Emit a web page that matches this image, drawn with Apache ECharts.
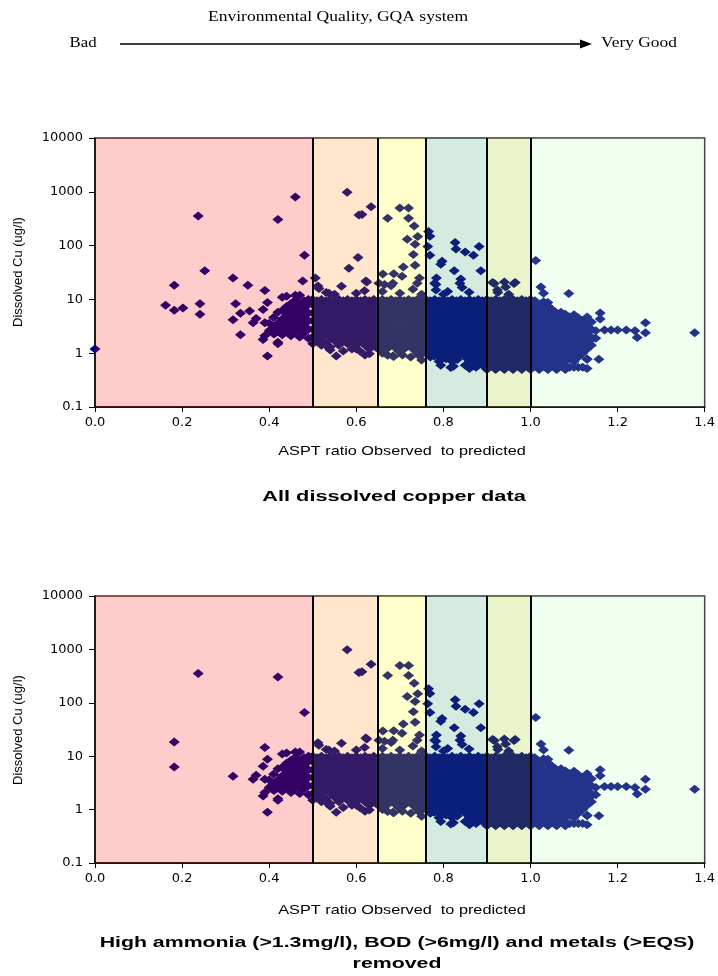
<!DOCTYPE html>
<html>
<head>
<meta charset="utf-8">
<script src="https://cdn.jsdelivr.net/npm/echarts@6.0.0/dist/echarts.min.js"></script>
<style>
html,body{margin:0;padding:0;background:#fff;}
#c{width:718px;height:976px;}
</style>
</head>
<body>
<div id="c"></div>
<script>
// ---------- DATA ----------
const yTickLabels = ['0.1', '1', '10', '100', '1000', '10000'];
// GQA band edges on the ASPT ratio axis
const bandEdges = [0, 0.5, 0.646, 0.763, 0.897, 1.0, 1.4];

// dense cloud, read column by column: [x, y, y, ...]
const denseCols = [
  [0.40, 2.6, 3.6],
  [0.41, 2.3, 3.1, 4.6],
  [0.42, 1.6, 2.6, 3.6, 5.8],
  [0.43, 2.2, 3.1, 4.3, 6.2],
  [0.44, 2.6, 3.6, 5.1, 7.4, 11.5],
  [0.45, 2.1, 3, 4.2, 6, 8.4],
  [0.46, 2.5, 3.5, 5, 7, 9.6],
  [0.47, 2, 2.9, 4.1, 5.8, 8.2, 12],
  [0.48, 2.4, 3.4, 4.8, 6.8, 9.4],
  [0.49, 1.9, 2.8, 4, 5.6, 8, 10],
  [0.50, 1.5, 2, 2.8, 4, 5.6, 8, 10],
  [0.51, 1.7, 2.4, 3.4, 4.7, 6.7, 9.4],
  [0.52, 1.4, 2, 2.8, 4, 5.7, 8, 10],
  [0.53, 1.6, 2.4, 3.3, 4.7, 6.6, 9.3],
  [0.54, 1.3, 2, 2.8, 3.9, 5.6, 8, 10],
  [0.55, 1.7, 2.4, 3.4, 4.8, 6.7, 9.5],
  [0.56, 1.4, 2, 2.9, 4, 5.6, 7.9, 10],
  [0.57, 1.7, 2.4, 3.3, 4.7, 6.8, 9.4],
  [0.58, 1.5, 2, 2.8, 4, 5.6, 8.1, 10],
  [0.59, 1.2, 1.7, 2.4, 3.4, 4.7, 6.7, 9.4],
  [0.60, 1.4, 2, 2.8, 4, 5.5, 8, 10],
  [0.61, 1.7, 2.4, 3.4, 4.6, 6.7, 9.4],
  [0.62, 1.4, 2, 2.8, 4, 5.6, 8, 10],
  [0.63, 1.2, 1.7, 2.4, 3.3, 4.7, 6.7, 9.4],
  [0.64, 1.4, 2, 2.8, 4, 5.6, 8, 10],
  [0.65, 1.2, 1.7, 2.4, 3.4, 4.7, 6.7, 9.4],
  [0.66, 1.4, 2, 2.8, 4, 5.6, 8, 10],
  [0.67, 1.2, 1.7, 2.4, 3.3, 4.7, 6.7, 9.4],
  [0.68, 1.4, 2, 2.8, 4, 5.6, 8, 10],
  [0.69, 1.25, 1.7, 2.4, 3.4, 4.7, 6.7, 9.4],
  [0.70, 1.4, 2, 2.8, 4, 5.6, 8, 10],
  [0.71, 1.2, 1.7, 2.4, 3.4, 4.8, 6.7, 9.4],
  [0.72, 1.4, 2, 2.8, 4, 5.6, 8, 10],
  [0.73, 1.2, 1.7, 2.4, 3.3, 4.7, 6.7, 9.4],
  [0.74, 1, 1.4, 2, 2.8, 4, 5.6, 8, 10],
  [0.75, 1.2, 1.7, 2.4, 3.4, 4.7, 6.7, 9.4],
  [0.76, 1, 1.4, 2, 2.8, 4, 5.6, 8, 10],
  [0.77, 0.85, 1.2, 1.7, 2.4, 3.4, 4.7, 6.7, 9.4],
  [0.78, 1, 1.4, 2, 2.8, 4, 5.6, 8, 10],
  [0.79, 0.85, 1.2, 1.7, 2.4, 3.3, 4.7, 6.7, 9.4],
  [0.80, 1, 1.4, 2, 2.8, 4, 5.6, 8, 10],
  [0.81, 0.85, 1.2, 1.7, 2.4, 3.4, 4.7, 6.6, 9.4],
  [0.82, 0.7, 1, 1.4, 2, 2.8, 4, 5.6, 8, 10],
  [0.83, 0.85, 1.2, 1.7, 2.4, 3.4, 4.7, 6.7, 9.4],
  [0.84, 1, 1.4, 2, 2.8, 4, 5.6, 8, 10],
  [0.85, 0.85, 1.2, 1.7, 2.4, 3.4, 4.7, 6.7, 9.4],
  [0.86, 0.7, 1, 1.4, 2, 2.8, 4, 5.6, 8, 10],
  [0.87, 0.6, 0.85, 1.2, 1.7, 2.4, 3.4, 4.7, 6.7, 9.4],
  [0.88, 0.7, 1, 1.4, 2, 2.8, 4, 5.6, 8, 10],
  [0.89, 0.6, 0.85, 1.2, 1.7, 2.4, 3.4, 4.7, 6.7, 9.4],
  [0.90, 0.5, 0.7, 1, 1.4, 2, 2.8, 4, 5.6, 8, 10],
  [0.91, 0.6, 0.85, 1.2, 1.7, 2.4, 3.4, 4.7, 6.7, 9.4],
  [0.92, 0.5, 0.7, 1, 1.4, 2, 2.8, 4, 5.6, 8, 10],
  [0.93, 0.6, 0.85, 1.2, 1.7, 2.4, 3.3, 4.7, 6.7, 9.4],
  [0.94, 0.5, 0.7, 1, 1.4, 2, 2.8, 4, 5.6, 8, 10],
  [0.95, 0.6, 0.85, 1.2, 1.7, 2.4, 3.4, 4.8, 6.7, 9.4],
  [0.96, 0.5, 0.7, 1, 1.4, 2, 2.8, 4, 5.6, 8, 10],
  [0.97, 0.6, 0.85, 1.2, 1.7, 2.4, 3.4, 4.7, 6.6, 9.4],
  [0.98, 0.5, 0.7, 1, 1.4, 2, 2.9, 4, 5.6, 8, 10],
  [0.99, 0.6, 0.85, 1.2, 1.7, 2.4, 3.4, 4.7, 6.7, 9.4],
  [1.00, 0.5, 0.7, 1, 1.4, 2, 2.8, 4, 5.6, 8, 10],
  [1.01, 0.6, 0.85, 1.2, 1.7, 2.4, 3.4, 4.7, 6.7, 9.4],
  [1.02, 0.5, 0.7, 1, 1.4, 2, 2.8, 4, 5.6, 8],
  [1.03, 0.6, 0.85, 1.2, 1.7, 2.4, 3.4, 4.7, 6.7, 9],
  [1.04, 0.5, 0.7, 1, 1.4, 2, 2.8, 4, 5.6, 7.5],
  [1.05, 0.6, 0.85, 1.2, 1.7, 2.4, 3.4, 4.7, 6.5],
  [1.06, 0.5, 0.7, 1, 1.4, 2, 2.8, 4, 5.6],
  [1.07, 0.6, 0.85, 1.2, 1.7, 2.4, 3.4, 4.7, 5.8],
  [1.08, 0.5, 0.7, 1, 1.4, 2, 2.8, 4, 5.3],
  [1.09, 0.55, 0.85, 1.2, 1.7, 2.4, 3.4, 4.7],
  [1.10, 0.7, 1, 1.4, 2, 2.8, 4, 5.2],
  [1.11, 0.55, 0.85, 1.2, 1.7, 2.4, 3.4, 4.5],
  [1.12, 1, 1.4, 2, 2.8, 4],
  [1.13, 0.78, 1.2, 1.7, 2.4, 3.3, 4.7],
  [1.14, 1.4, 2, 2.8, 3.8]
];

// scattered points present in both panels: [x, y]
const scatterShared = [
  [0.182, 18.4], [0.182, 6.3], [0.237, 355], [0.42, 305], [0.481, 66], [0.317, 4.2],
  [0.363, 3.7], [0.37, 4.4], [0.39, 14.6], [0.396, 8.8], [0.386, 6.5], [0.39, 3.7],
  [0.39, 2.1], [0.386, 1.8], [0.396, 0.89], [0.42, 1.5], [0.412, 2.3], [0.405, 2.8],
  [0.43, 11], [0.46, 12],
  [0.512, 17.8], [0.531, 13.4], [0.514, 16], [0.537, 13], [0.566, 17.5], [0.579, 980],
  [0.606, 370], [0.613, 380], [0.634, 525], [0.622, 22], [0.619, 14.5], [0.55, 12.5], [0.6, 13],
  [0.515, 1.7], [0.531, 1.37], [0.554, 0.89], [0.57, 1.1], [0.608, 1.1], [0.63, 0.98],
  [0.62, 0.93], [0.6, 1.2], [0.54, 1.15],
  [0.672, 323], [0.7, 500], [0.72, 500], [0.72, 323], [0.733, 232], [0.741, 148], [0.717, 131],
  [0.735, 106], [0.731, 68], [0.735, 43], [0.708, 40], [0.661, 29.5], [0.686, 30], [0.705, 27],
  [0.745, 25], [0.652, 20], [0.684, 20], [0.624, 21], [0.665, 19], [0.68, 18], [0.73, 15.5],
  [0.74, 20], [0.66, 14], [0.7, 13], [0.75, 12.5],
  [0.672, 0.92], [0.686, 0.87], [0.706, 0.93], [0.745, 0.9], [0.684, 0.89], [0.709, 1.5],
  [0.697, 1.1], [0.725, 0.85], [0.66, 1.0], [0.75, 0.75],
  [0.766, 183], [0.769, 150], [0.764, 96], [0.769, 66], [0.827, 114], [0.829, 86], [0.85, 76],
  [0.869, 66], [0.882, 96], [0.886, 34], [0.794, 45], [0.797, 51], [0.825, 34], [0.784, 25],
  [0.783, 19], [0.84, 24], [0.843, 16.6], [0.859, 13.6], [0.78, 20], [0.838, 20], [0.783, 15],
  [0.81, 14], [0.8, 12.5],
  [0.779, 0.89], [0.817, 0.54], [0.806, 0.79], [0.832, 0.76], [0.85, 0.6], [0.86, 0.52],
  [0.794, 0.6], [0.823, 0.57], [0.79, 0.7], [0.875, 0.55],
  [0.917, 19.7], [0.94, 21], [0.943, 17], [0.962, 19.7], [0.924, 15], [0.913, 20.6],
  [0.965, 20.6], [0.925, 13.4], [0.95, 12.5],
  [1.012, 53], [1.024, 17], [1.03, 13], [1.088, 12.9], [1.04, 8.8],
  [1.15, 2.6], [1.16, 4.3], [1.16, 5.6], [1.17, 2.7], [1.185, 2.7], [1.2, 2.7], [1.22, 2.7],
  [1.24, 2.6], [1.245, 1.95], [1.264, 2.4], [1.264, 3.7], [1.377, 2.4], [1.15, 1.9], [1.14, 1.8],
  [1.157, 0.77], [1.13, 0.77], [1.13, 0.52], [1.12, 0.55], [1.1, 0.55], [1.08, 0.57]
];

// points only in the "all data" panel (removed in the filtered panel)
const scatterRemoved = [
  [0, 1.2], [0.162, 7.8], [0.202, 6.9], [0.241, 8.3], [0.241, 5.3], [0.252, 34],
  [0.317, 25], [0.323, 8.3], [0.334, 5.5], [0.334, 2.2], [0.351, 18.4], [0.355, 6.1],
  [0.46, 800], [0.477, 22], [0.506, 25], [0.583, 38], [0.604, 60]
];

// ---------- STYLES ----------
const bandFills = [
  'rgba(255,0,0,0.2)', 'rgba(255,128,0,0.2)', 'rgba(255,255,0,0.2)',
  'rgba(51,153,102,0.2)', 'rgba(153,204,0,0.2)', 'rgba(180,255,180,0.2)'
];
const markerColor = '#000080';

function flattenCols(cols) {
  const out = [];
  cols.forEach(c => { for (let i = 1; i < c.length; i++) out.push([c[0], c[i]]); });
  return out;
}
const sharedData = flattenCols(denseCols).concat(scatterShared);
const topData = sharedData.concat(scatterRemoved);
const bottomData = sharedData;

const grids = [
  { left: 95, top: 138, width: 611, height: 269 },
  { left: 95, top: 596, width: 611, height: 267 }
];

function xAxisCfg(i) {
  return {
    gridIndex: i, type: 'value', min: 0, max: 1.4, interval: 0.2,
    axisLine: { show: true, lineStyle: { color: '#000', width: 1.5 } },
    axisTick: { show: true, length: 5, inside: false, lineStyle: { color: '#000' } },
    axisLabel: { color: '#000', fontFamily: 'DejaVu Sans', fontSize: 13, margin: 9,
      formatter: v => v.toFixed(1) },
    splitLine: { show: false }
  };
}
function yAxisCfg(i) {
  return {
    gridIndex: i, type: 'log', logBase: 10, min: 0.1, max: 10000,
    axisLine: { show: true, lineStyle: { color: '#000', width: 1.5 } },
    axisTick: { show: true, length: 6, inside: false, lineStyle: { color: '#000' } },
    axisLabel: { color: '#000', fontFamily: 'DejaVu Sans', fontSize: 13, margin: 12,
      formatter: v => {
        const lg = Math.round(Math.log10(v));
        return yTickLabels[lg + 1];
      } },
    splitLine: { show: false },
    minorTick: { show: false }
  };
}

function bandAreas() {
  const arr = [];
  for (let i = 0; i < bandEdges.length - 1; i++) {
    arr.push([{ xAxis: bandEdges[i], itemStyle: { color: bandFills[i] } }, { xAxis: bandEdges[i + 1] }]);
  }
  return arr;
}
function bandLines() {
  return bandEdges.slice(1, -1).map(v => ({ xAxis: v }));
}

function scatterSeries(i, data) {
  return {
    type: 'scatter', xAxisIndex: i, yAxisIndex: i, data: data,
    symbol: 'diamond', symbolSize: [11, 9], clip: false, silent: true, z: 2,
    itemStyle: { color: markerColor, opacity: 1 }
  };
}
function overlaySeries(i) {
  return {
    type: 'scatter', xAxisIndex: i, yAxisIndex: i, data: [], silent: true, z: 4,
    markArea: { silent: true, z: 4, label: { show: false }, itemStyle: { borderWidth: 0 }, data: bandAreas() },
    markLine: { silent: true, z: 6, symbol: ['none', 'none'], label: { show: false },
      lineStyle: { color: '#000', width: 2, type: 'solid' }, data: bandLines() }
  };
}

const serif = '"Liberation Serif", "Times New Roman", serif';
const sans = '"Liberation Sans", Arial, sans-serif';
function txt(text, x, y, font, sx, extra) {
  return Object.assign({
    type: 'text', x: x, y: y, scaleX: sx || 1, silent: true, z: 10,
    style: { text: text, font: font, fill: '#000', textAlign: 'center', textVerticalAlign: 'middle',
      align: 'center', verticalAlign: 'middle' }
  }, extra || {});
}

const option = {
  animation: false,
  backgroundColor: '#fff',
  grid: grids.map(g => Object.assign({ show: true, borderColor: '#333', borderWidth: 1.5,
    backgroundColor: 'transparent', containLabel: false }, g)),
  xAxis: [xAxisCfg(0), xAxisCfg(1)],
  yAxis: [yAxisCfg(0), yAxisCfg(1)],
  series: [scatterSeries(0, topData), overlaySeries(0), scatterSeries(1, bottomData), overlaySeries(1)],
  graphic: [
    txt('Environmental Quality, GQA system', 338, 17, '15px ' + serif, 1.17),
    txt('Bad', 83, 43, '15px ' + serif, 1.12),
    txt('Very Good', 639, 43, '15px ' + serif, 1.16),
    { type: 'line', silent: true, shape: { x1: 120, y1: 44, x2: 582, y2: 44 }, style: { stroke: '#000', lineWidth: 1.3 } },
    { type: 'polygon', silent: true, shape: { points: [[580, 39.5], [592, 44], [580, 48.5]] }, style: { fill: '#000' } },
    txt('Dissolved Cu (ug/l)', 18, 272, '13px ' + sans, 1, { rotation: Math.PI / 2 }),
    txt('Dissolved Cu (ug/l)', 18, 730, '13px ' + sans, 1, { rotation: Math.PI / 2 }),
    txt('ASPT ratio Observed  to predicted', 402, 451, '13px ' + sans, 1.25),
    txt('ASPT ratio Observed  to predicted', 402, 910, '13px ' + sans, 1.25),
    txt('All dissolved copper data', 394, 497, 'bold 15px ' + sans, 1.45),
    txt('High ammonia (>1.3mg/l), BOD (>6mg/l) and metals (>EQS)', 397, 943, 'bold 15px ' + sans, 1.42),
    txt('removed', 397, 964, 'bold 15px ' + sans, 1.42)
  ]
};

const chart = echarts.init(document.getElementById('c'), null, { renderer: 'canvas' });
chart.setOption(option);
</script>
</body>
</html>
